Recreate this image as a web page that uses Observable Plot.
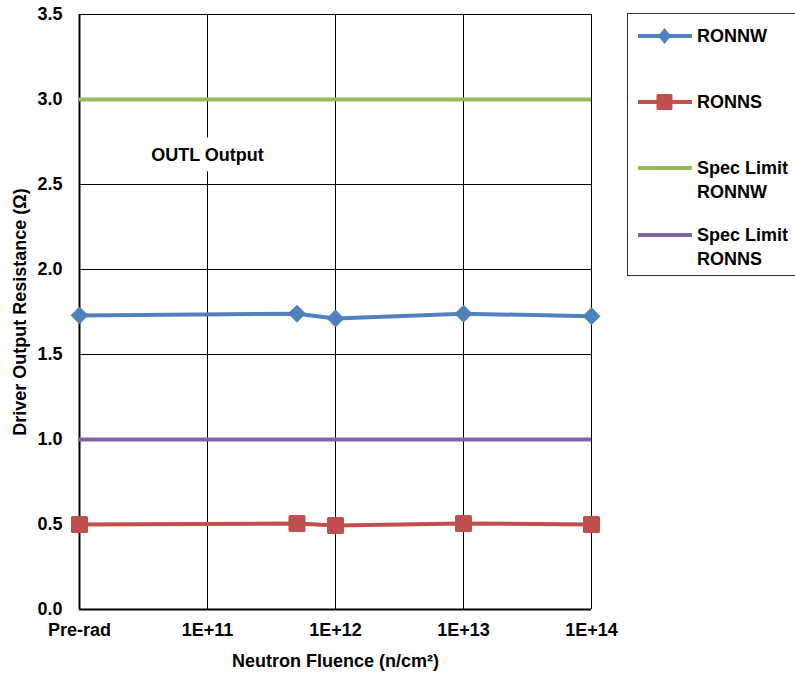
<!DOCTYPE html>
<html>
<head>
<meta charset="utf-8">
<script src="https://cdn.jsdelivr.net/npm/d3@7"></script>
<script src="https://cdn.jsdelivr.net/npm/@observablehq/plot@0.6"></script>
<style>
  html, body { margin: 0; padding: 0; background: #fff; overflow: hidden; }
  #wrap { position: relative; width: 795px; height: 675px; overflow: hidden; }
  #legend { position: absolute; left: 627px; top: 13px; width: 180px; height: 263px;
            border: 1px solid #333; box-sizing: border-box; background: #fff;
            font-family: "Liberation Sans", Arial, sans-serif; font-weight: bold; font-size: 18px; color: #000; }
  .item { position: absolute; left: 9px; display: flex; align-items: flex-start; }
  .item svg { flex: none; }
  .item span { line-height: 24px; margin-left: 4px; white-space: nowrap; }
</style>
</head>
<body>
<div id="wrap"></div>
<script>
// ---- data ----
// x positions (log fluence); "Pre-rad" is plotted at the 1E+10 position of the log axis
const fluence = [1e10, 5e11, 1e12, 1e13, 1e14];
const ronnw = [1.73, 1.74, 1.712, 1.74, 1.725];
const ronns = [0.50, 0.506, 0.494, 0.506, 0.50];
const specLimitRonnw = [3.0];
const specLimitRonns = [1.0];
const xTickValues = [1e10, 1e11, 1e12, 1e13, 1e14];
const xTickLabels = ["Pre-rad", "1E+11", "1E+12", "1E+13", "1E+14"];
const yTickValues = [0, 0.5, 1.0, 1.5, 2.0, 2.5, 3.0, 3.5];
const seriesNames = ["RONNW", "RONNS", "Spec Limit RONNW", "Spec Limit RONNS"];
const seriesColors = ["#4F81BD", "#C0504D", "#9BBB59", "#8064A2"];
const annotation = [{x: 1e11, y: 2.67, text: "OUTL Output"}];

const labelMap = new Map(xTickValues.map((v, i) => [v, xTickLabels[i]]));
const rowsW = fluence.map((f, i) => ({x: f, y: ronnw[i]}));
const rowsS = fluence.map((f, i) => ({x: f, y: ronns[i]}));

const chart = Plot.plot({
  width: 795, height: 675,
  marginLeft: 79, marginRight: 204, marginTop: 14, marginBottom: 66,
  x: {type: "log", domain: [1e10, 1e14]},
  y: {domain: [0, 3.5]},
  style: {fontFamily: "'Liberation Sans', Arial, sans-serif", fontWeight: "bold", fontSize: "18px", color: "#000", background: "#fff"},
  marks: [
    Plot.gridY(yTickValues.filter(v => v > 0), {stroke: "#000", strokeOpacity: 1, strokeWidth: 1}),
    Plot.gridX(xTickValues.slice(1), {stroke: "#000", strokeOpacity: 1, strokeWidth: 1}),
    Plot.text(annotation, {x: "x", y: "y", text: "text", fontSize: 18, fontWeight: "bold", fill: "#000",
      stroke: "#fff", strokeWidth: 22, paintOrder: "stroke"}),
    Plot.ruleX([1e10], {stroke: "#000", strokeWidth: 2}),
    Plot.ruleY([0], {stroke: "#000", strokeWidth: 2}),
    Plot.axisY(yTickValues, {tickFormat: d3.format(".1f"), tickSize: 0, tickPadding: 17, fontSize: 18,
      label: "Driver Output Resistance (Ω)", labelAnchor: "center", labelArrow: "none", labelOffset: 66}),
    Plot.axisX(xTickValues, {tickFormat: d => labelMap.get(d), tickSize: 0, tickPadding: 14, fontSize: 18,
      label: "Neutron Fluence (n/cm²)", labelAnchor: "center", labelArrow: "none", labelOffset: 57}),
    Plot.ruleY(specLimitRonnw, {stroke: seriesColors[2], strokeWidth: 4}),
    Plot.ruleY(specLimitRonns, {stroke: seriesColors[3], strokeWidth: 4}),
    Plot.line(rowsW, {x: "x", y: "y", stroke: seriesColors[0], strokeWidth: 4}),
    Plot.dot(rowsW, {x: "x", y: "y", symbol: "diamond2", r: 7.6, fill: seriesColors[0], stroke: seriesColors[0], strokeWidth: 1}),
    Plot.line(rowsS, {x: "x", y: "y", stroke: seriesColors[1], strokeWidth: 4}),
    Plot.dot(rowsS, {x: "x", y: "y", symbol: "square", r: 7.9, fill: seriesColors[1], stroke: seriesColors[1], strokeWidth: 3, strokeLinejoin: "round"})
  ]
});
const wrap = document.getElementById("wrap");
wrap.appendChild(chart);

// legend
const legend = document.createElement("div");
legend.id = "legend";
const tops = [10, 76, 142, 209];
seriesNames.forEach((name, i) => {
  const item = document.createElement("div");
  item.className = "item";
  item.style.top = tops[i] + "px";
  let marker = "";
  if (i === 0) marker = `<path d="M27.5,4 L34,12 L27.5,20 L21,12 Z" fill="${seriesColors[0]}"/>`;
  if (i === 1) marker = `<rect x="21" y="5.5" width="13" height="13" fill="${seriesColors[1]}" stroke="${seriesColors[1]}" stroke-width="3" stroke-linejoin="round"/>`;
  item.innerHTML = `<svg width="56" height="24"><line x1="1" x2="55" y1="12" y2="12" stroke="${seriesColors[i]}" stroke-width="4"/>${marker}</svg>` +
    `<span>${name.replace("Spec Limit ", "Spec Limit<br>")}</span>`;
  legend.appendChild(item);
});
wrap.appendChild(legend);
</script>
</body>
</html>
